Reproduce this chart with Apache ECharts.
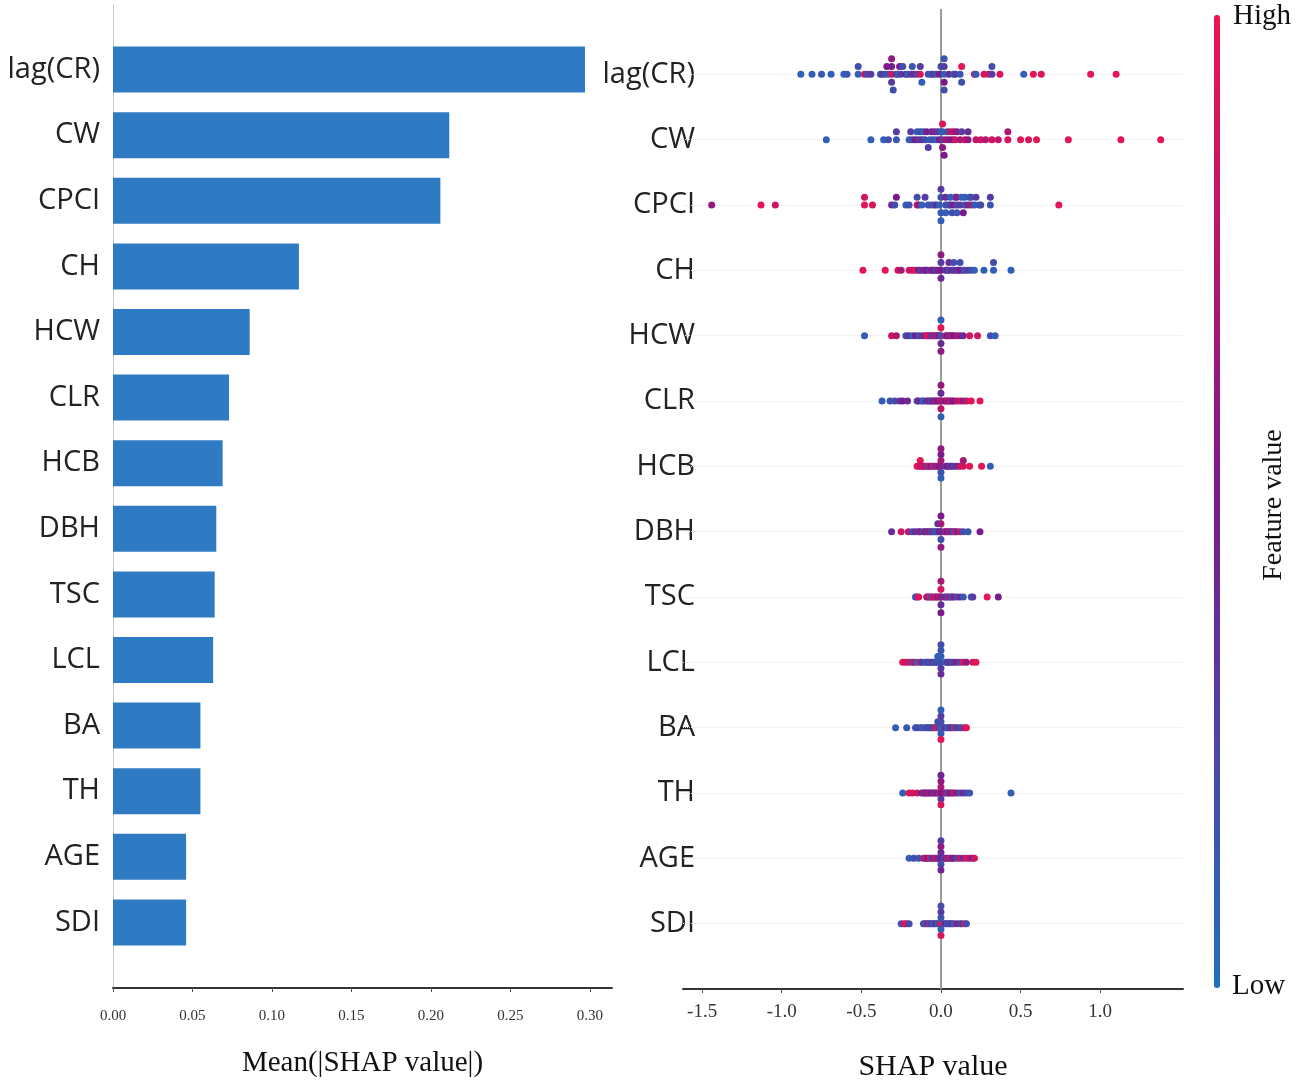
<!DOCTYPE html>
<html>
<head>
<meta charset="utf-8">
<script src="https://cdn.jsdelivr.net/npm/echarts@6/dist/echarts.min.js"></script>
<style>
  html, body { margin: 0; padding: 0; background: #fff; }
  #chart { width: 1299px; height: 1082px; }
</style>
</head>
<body>
<div id="chart"></div>
<script>
// features, top to bottom
const features = ['lag(CR)', 'CW', 'CPCI', 'CH', 'HCW', 'CLR', 'HCB', 'DBH', 'TSC', 'LCL', 'BA', 'TH', 'AGE', 'SDI'];
const meanAbsShap = [0.297, 0.2116, 0.206, 0.117, 0.086, 0.073, 0.069, 0.065, 0.064, 0.063, 0.055, 0.055, 0.046, 0.046];
const barTicks = [0, 0.05, 0.10, 0.15, 0.20, 0.25, 0.30];
const shapTicks = [-1.5, -1.0, -0.5, 0, 0.5, 1.0];

// beeswarm points: [shap value, feature value 0..1]
const lagCR = [[-0.88,0.1],[-0.81,0.1],[-0.75,0.15],[-0.69,0.1],[-0.61,0.1],[-0.59,0.15],[-0.52,0.1],[-0.52,0.2],[-0.48,0.8],[-0.46,0.2],[-0.44,0.3],
  [-0.38,0.1],[-0.37,0.3],[-0.35,0.2],[-0.34,0.5],[-0.33,0.15],[-0.31,0.9],[-0.31,0.5],[-0.31,0.3],[-0.31,0.6],[-0.30,0.2],[-0.28,0.4],[-0.27,0.1],[-0.26,0.5],[-0.25,0.3],[-0.24,0.2],[-0.22,0.5],[-0.21,0.1],[-0.19,0.3],[-0.18,0.15],[-0.17,0.4],[-0.15,0.2],[-0.13,0.9],[-0.13,0.3],[-0.12,0.1],
  [-0.08,0.2],[-0.06,0.1],[-0.05,0.3],[-0.03,0.15],[-0.01,0.5],[0.0,0.2],[0.02,0.1],[0.02,0.3],[0.02,0.5],[0.02,0.15],[0.02,0.2],[0.05,0.4],[0.08,0.1],[0.09,0.3],[0.12,0.15],[0.13,0.95],[0.13,0.2],
  [0.21,0.9],[0.22,0.1],[0.27,0.9],[0.30,0.85],[0.32,0.3],[0.32,0.2],[0.37,0.9],[0.52,0.1],[0.58,0.95],[0.63,0.9],[0.94,0.95],[1.10,0.95]];
const CW = [[-0.72,0.1],[-0.44,0.1],[-0.36,0.1],[-0.33,0.2],[-0.28,0.15],[-0.28,0.3],
  [-0.20,0.1],[-0.19,0.3],[-0.18,0.2],[-0.16,0.5],[-0.15,0.1],[-0.14,0.3],[-0.13,0.2],[-0.12,0.4],[-0.11,0.1],[-0.10,0.2],[-0.09,0.5],[-0.08,0.3],[-0.07,0.1],[-0.06,0.4],[-0.05,0.2],[-0.04,0.6],[-0.03,0.1],[-0.02,0.3],[-0.01,0.5],
  [0.0,0.2],[0.01,0.3],[0.01,0.1],[0.01,0.6],[0.01,0.9],[0.02,0.5],[0.03,0.7],[0.04,0.2],[0.05,0.6],[0.06,0.8],[0.07,0.5],[0.08,0.7],[0.09,0.85],[0.10,0.6],[0.12,0.7],[0.13,0.3],[0.15,0.8],[0.17,0.6],[0.17,0.4],
  [0.22,0.8],[0.25,0.85],[0.28,0.75],[0.32,0.85],[0.36,0.8],[0.42,0.9],[0.42,0.7],[0.5,0.95],[0.55,0.9],[0.6,0.95],[0.8,0.95],[1.13,0.95],[1.38,0.95]];
const CPCI = [[-1.44,0.6],[-1.13,0.95],[-1.04,0.85],[-0.48,0.95],[-0.48,0.85],[-0.43,0.9],[-0.31,0.4],[-0.29,0.2],[-0.28,0.5],[-0.22,0.1],[-0.20,0.2],[-0.15,0.95],[-0.15,0.2],[-0.14,0.6],[-0.12,0.1],[-0.10,0.3],[-0.08,0.15],[-0.06,0.2],[-0.04,0.1],[-0.03,0.4],
  [-0.01,0.1],[0.0,0.2],[0.0,0.15],[0.0,0.3],[0.0,0.1],[0.03,0.2],[0.03,0.4],[0.03,0.1],[0.05,0.15],[0.06,0.3],[0.06,0.1],[0.07,0.2],[0.08,0.5],[0.09,0.1],[0.1,0.2],[0.1,0.6],[0.1,0.15],[0.12,0.3],[0.13,0.1],[0.14,0.5],[0.15,0.2],[0.15,0.1],[0.17,0.4],[0.18,0.15],[0.19,0.7],[0.19,0.2],[0.21,0.1],[0.22,0.3],[0.24,0.15],[0.25,0.2],[0.31,0.15],[0.31,0.3],[0.74,0.95]];
const CH = [[-0.49,0.95],[-0.35,0.95],[-0.27,0.85],[-0.25,0.7],[-0.20,0.9],[-0.18,0.8],[-0.16,0.95],[-0.14,0.5],[-0.13,0.3],[-0.11,0.6],[-0.10,0.4],[-0.09,0.5],[-0.07,0.3],[-0.06,0.6],[-0.05,0.4],[-0.04,0.5],[-0.03,0.2],[-0.02,0.45],[-0.01,0.6],
  [0.0,0.5],[0.0,0.3],[0.0,0.4],[0.0,0.6],[0.03,0.3],[0.04,0.45],[0.05,0.2],[0.05,0.4],[0.07,0.55],[0.08,0.3],[0.08,0.2],[0.1,0.4],[0.11,0.3],[0.12,0.5],[0.12,0.2],[0.14,0.35],[0.15,0.15],[0.17,0.3],[0.19,0.2],[0.21,0.1],[0.27,0.1],[0.33,0.1],[0.33,0.2],[0.44,0.1]];
const HCW = [[-0.48,0.1],[-0.31,0.85],[-0.28,0.7],[-0.22,0.2],[-0.2,0.4],[-0.18,0.1],[-0.16,0.5],[-0.14,0.2],[-0.12,0.3],[-0.10,0.6],[-0.09,0.9],[-0.08,0.95],[-0.07,0.8],[-0.06,0.2],[-0.05,0.6],[-0.04,0.85],[-0.03,0.3],[-0.02,0.7],[-0.01,0.5],
  [0.0,0.2],[0.0,0.95],[0.0,0.4],[0.0,0.1],[0.0,0.6],[0.03,0.8],[0.04,0.5],[0.05,0.7],[0.06,0.3],[0.07,0.85],[0.08,0.5],[0.1,0.7],[0.12,0.6],[0.14,0.4],[0.18,0.9],[0.23,0.85],[0.31,0.2],[0.34,0.1]];
const CLR = [[-0.37,0.1],[-0.32,0.15],[-0.29,0.2],[-0.26,0.3],[-0.24,0.5],[-0.21,0.4],[-0.15,0.2],[-0.14,0.4],[-0.12,0.3],[-0.11,0.1],[-0.09,0.5],[-0.08,0.3],[-0.07,0.4],[-0.06,0.2],[-0.05,0.6],[-0.04,0.4],[-0.03,0.7],[-0.02,0.5],[-0.01,0.6],
  [0.0,0.7],[0.0,0.4],[0.0,0.8],[0.0,0.6],[0.0,0.1],[0.02,0.7],[0.03,0.55],[0.04,0.75],[0.05,0.6],[0.06,0.8],[0.07,0.65],[0.08,0.5],[0.1,0.7],[0.12,0.85],[0.14,0.6],[0.16,0.8],[0.19,0.95],[0.245,0.95]];
const HCB = [[-0.15,0.95],[-0.14,0.9],[-0.13,0.85],[-0.13,0.95],[-0.12,0.8],[-0.11,0.9],[-0.10,0.7],[-0.09,0.95],[-0.08,0.2],[-0.07,0.85],[-0.06,0.6],[-0.05,0.9],[-0.04,0.1],[-0.03,0.7],[-0.02,0.8],[-0.01,0.5],
  [0.0,0.6],[0.0,0.7],[0.0,0.2],[0.0,0.5],[0.0,0.1],[0.0,0.6],[0.03,0.3],[0.04,0.5],[0.05,0.4],[0.06,0.2],[0.07,0.6],[0.08,0.3],[0.1,0.4],[0.12,0.8],[0.14,0.9],[0.14,0.7],[0.18,0.95],[0.255,0.95],[0.31,0.1]];
const DBH = [[-0.31,0.4],[-0.25,0.85],[-0.205,0.8],[-0.18,0.2],[-0.16,0.4],[-0.14,0.3],[-0.13,0.6],[-0.11,0.2],[-0.10,0.5],[-0.09,0.3],[-0.08,0.7],[-0.07,0.4],[-0.06,0.2],[-0.05,0.6],[-0.04,0.1],[-0.03,0.2],[-0.02,0.15],[-0.02,0.3],[-0.01,0.5],
  [0.0,0.4],[0.0,0.7],[0.0,0.2],[0.0,0.5],[0.0,0.6],[0.02,0.3],[0.03,0.8],[0.04,0.5],[0.05,0.7],[0.06,0.3],[0.07,0.6],[0.08,0.2],[0.09,0.95],[0.1,0.4],[0.12,0.8],[0.14,0.2],[0.17,0.15],[0.245,0.5]];
const TSC = [[-0.16,0.1],[-0.15,0.3],[-0.14,0.95],[-0.09,0.9],[-0.08,0.4],[-0.07,0.95],[-0.06,0.2],[-0.05,0.85],[-0.04,0.7],[-0.03,0.9],[-0.02,0.5],[-0.01,0.8],
  [0.0,0.6],[0.0,0.9],[0.0,0.4],[0.0,0.7],[0.0,0.5],[0.02,0.3],[0.03,0.6],[0.04,0.2],[0.05,0.8],[0.06,0.3],[0.07,0.1],[0.08,0.6],[0.1,0.2],[0.12,0.4],[0.14,0.15],[0.19,0.1],[0.2,0.3],[0.29,0.95],[0.36,0.5]];
const LCL = [[-0.24,0.95],[-0.22,0.85],[-0.2,0.9],[-0.18,0.2],[-0.17,0.8],[-0.15,0.1],[-0.13,0.95],[-0.12,0.3],[-0.1,0.2],[-0.09,0.1],[-0.08,0.3],[-0.07,0.15],[-0.06,0.2],[-0.05,0.4],[-0.04,0.1],[-0.03,0.3],[-0.02,0.2],[-0.02,0.1],[-0.01,0.15],
  [0.0,0.2],[0.0,0.1],[0.0,0.3],[0.0,0.15],[0.0,0.4],[0.0,0.2],[0.03,0.1],[0.04,0.3],[0.05,0.2],[0.06,0.5],[0.07,0.15],[0.08,0.3],[0.1,0.6],[0.12,0.2],[0.14,0.9],[0.16,0.6],[0.2,0.85],[0.22,0.95]];
const BA = [[-0.285,0.1],[-0.215,0.15],[-0.16,0.1],[-0.15,0.2],[-0.13,0.3],[-0.12,0.1],[-0.1,0.2],[-0.09,0.15],[-0.08,0.3],[-0.07,0.1],[-0.06,0.2],[-0.05,0.4],[-0.04,0.15],[-0.03,0.9],[-0.02,0.95],[-0.02,0.2],[-0.01,0.3],
  [0.0,0.1],[0.0,0.2],[0.0,0.15],[0.0,0.3],[0.0,0.95],[0.0,0.1],[0.02,0.2],[0.03,0.4],[0.04,0.1],[0.05,0.2],[0.06,0.3],[0.07,0.6],[0.08,0.1],[0.09,0.9],[0.1,0.2],[0.12,0.4],[0.13,0.15],[0.15,0.8],[0.16,0.95]];
const TH = [[-0.24,0.1],[-0.2,0.95],[-0.18,0.85],[-0.15,0.9],[-0.12,0.5],[-0.11,0.3],[-0.1,0.7],[-0.09,0.6],[-0.08,0.4],[-0.07,0.8],[-0.06,0.5],[-0.05,0.3],[-0.04,0.7],[-0.03,0.6],[-0.02,0.4],[-0.01,0.8],
  [0.0,0.5],[0.0,0.7],[0.0,0.3],[0.0,0.6],[0.0,0.9],[0.0,0.45],[0.02,0.55],[0.03,0.7],[0.04,0.2],[0.05,0.85],[0.06,0.5],[0.07,0.3],[0.08,0.8],[0.1,0.6],[0.12,0.2],[0.14,0.4],[0.16,0.3],[0.18,0.15],[0.44,0.1]];
const AGE = [[-0.2,0.1],[-0.17,0.2],[-0.14,0.15],[-0.11,0.9],[-0.1,0.3],[-0.09,0.85],[-0.08,0.5],[-0.07,0.95],[-0.06,0.2],[-0.05,0.7],[-0.04,0.4],[-0.03,0.9],[-0.02,0.6],[-0.01,0.3],
  [0.0,0.5],[0.0,0.4],[0.0,0.2],[0.0,0.6],[0.0,0.45],[0.0,0.3],[0.02,0.1],[0.03,0.5],[0.04,0.8],[0.05,0.3],[0.06,0.9],[0.07,0.4],[0.08,0.6],[0.1,0.2],[0.12,0.85],[0.14,0.4],[0.16,0.95],[0.18,0.7],[0.2,0.5],[0.21,0.85]];
const SDI = [[-0.25,0.15],[-0.23,0.9],[-0.215,0.95],[-0.2,0.2],[-0.11,0.3],[-0.1,0.1],[-0.09,0.2],[-0.08,0.8],[-0.07,0.15],[-0.06,0.3],[-0.05,0.1],[-0.04,0.2],[-0.03,0.4],[-0.02,0.1],[-0.01,0.2],
  [0.0,0.95],[0.0,0.15],[0.0,0.1],[0.0,0.3],[0.0,0.9],[0.0,0.2],[0.02,0.15],[0.03,0.5],[0.04,0.1],[0.05,0.3],[0.06,0.2],[0.07,0.4],[0.08,0.1],[0.1,0.6],[0.12,0.2],[0.13,0.3],[0.15,0.95],[0.16,0.2]];
const swarmRows = [lagCR, CW, CPCI, CH, HCW, CLR, HCB, DBH, TSC, LCL, BA, TH, AGE, SDI];

// shap-style beeswarm: stack points that fall in the same x bin
function swarm(points, row) {
  const xs = points.map(p => p[0]);
  const lo = Math.min(...xs), hi = Math.max(...xs);
  const quant = xs.map(x => Math.round(100 * (x - lo) / (hi - lo + 1e-8)));
  const order = xs.map((_, i) => i).sort((a, b) => quant[a] - quant[b] || a - b);
  const ys = new Array(xs.length).fill(0);
  let layer = 0, last = -1;
  order.forEach(i => {
    if (quant[i] !== last) layer = 0;
    ys[i] = Math.ceil(layer / 2) * ((layer % 2) * 2 - 1);
    layer++;
    last = quant[i];
  });
  const k = 0.9 * 0.4 / Math.max(...ys.map(y => y + 1));
  return points.map((p, i) => [p[0], row + ys[i] * k, p[1]]);
}

const n = features.length;
const scatterData = [];
swarmRows.forEach((pts, i) => scatterData.push(...swarm(pts, n - 1 - i)));

const barCats = ['', ...features.slice().reverse(), ''];
const barVals = [null, ...meanAbsShap.slice().reverse(), null];

const labelFont = { fontFamily: 'Open Sans', fontSize: 29, color: '#222' };
const serif = 'Liberation Serif';

const chart = echarts.init(document.getElementById('chart'));
chart.setOption({
  animation: false,
  grid: [
    { left: 113, top: 4, width: 499, height: 984, outerBoundsMode: 'none' },
    { left: 683, top: 9, width: 500, height: 980, outerBoundsMode: 'none' }
  ],
  xAxis: [
    {
      gridIndex: 0, type: 'value', min: 0, max: 0.314,
      name: 'Mean(|SHAP value|)', nameLocation: 'middle', nameGap: 61,
      nameTextStyle: { fontFamily: serif, fontSize: 29, color: '#111' },
      axisLine: { show: true, onZero: false, lineStyle: { color: '#333', width: 2 } },
      axisTick: { show: true, length: 4, customValues: barTicks, lineStyle: { color: '#555' } },
      axisLabel: { customValues: barTicks, margin: 21, fontFamily: serif, fontSize: 15, color: '#333',
        formatter: v => v.toFixed(2) },
      splitLine: { show: false }
    },
    {
      gridIndex: 1, type: 'value', min: -1.62, max: 1.52,
      name: 'SHAP value', nameLocation: 'middle', nameGap: 63,
      nameTextStyle: { fontFamily: serif, fontSize: 30, color: '#111' },
      axisLine: { show: true, onZero: false, lineStyle: { color: '#333', width: 2 } },
      axisTick: { show: true, length: 4, customValues: shapTicks, lineStyle: { color: '#555' } },
      axisLabel: { customValues: shapTicks, margin: 14, fontFamily: serif, fontSize: 19, color: '#333',
        formatter: v => v.toFixed(1) },
      splitLine: { show: false }
    }
  ],
  yAxis: [
    {
      gridIndex: 0, type: 'category', data: barCats, boundaryGap: false,
      axisLine: { show: true, onZero: false, lineStyle: { color: '#c8c8c8', width: 1 } },
      axisTick: { show: false },
      axisLabel: Object.assign({ interval: 0, margin: 13 }, labelFont),
      splitLine: { show: false }
    },
    {
      gridIndex: 1, type: 'value', min: -1, max: n, interval: 1,
      axisLine: { show: false, onZero: false },
      axisTick: { show: false },
      axisLabel: Object.assign({ margin: -12,
        formatter: v => (v >= 0 && v < n ? features[n - 1 - v] : '') }, labelFont),
      splitLine: { show: false }
    }
  ],
  visualMap: {
    type: 'continuous', seriesIndex: 1, dimension: 2, min: 0, max: 1,
    orient: 'vertical', left: 1214, top: 15, itemWidth: 6, itemHeight: 973,
    padding: 0, calculable: false, hoverLink: false, text: null, showLabel: false,
    inRange: { color: ['#1f6fc2', '#7a1a8c', '#ee1450'] }
  },
  series: [
    {
      type: 'bar', xAxisIndex: 0, yAxisIndex: 0, data: barVals,
      barWidth: 46, itemStyle: { color: '#2e7bc4' }, silent: true
    },
    {
      type: 'scatter', xAxisIndex: 1, yAxisIndex: 1, data: scatterData,
      symbolSize: 7, z: 3, silent: true, itemStyle: { opacity: 1 },
      markLine: {
        silent: true, symbol: 'none', z: 1, label: { show: false },
        data: [
          ...features.map((_, i) => ({ yAxis: i, lineStyle: { color: '#e4e4e4', width: 1, type: 'dotted' } })),
          { xAxis: 0, lineStyle: { color: '#9a9a9a', width: 2, type: 'solid' } }
        ]
      }
    }
  ],
  graphic: [
    { type: 'text', left: 1233, top: 2, style: { text: 'High', fontFamily: serif, fontSize: 29, fill: '#111' } },
    { type: 'text', left: 1232, top: 972, style: { text: 'Low', fontFamily: serif, fontSize: 29, fill: '#111' } },
    { type: 'text', x: 1274, y: 505, rotation: Math.PI / 2,
      style: { text: 'Feature value', fontFamily: serif, fontSize: 28, fill: '#111', align: 'center', verticalAlign: 'middle' } }
  ]
});
</script>
</body>
</html>
